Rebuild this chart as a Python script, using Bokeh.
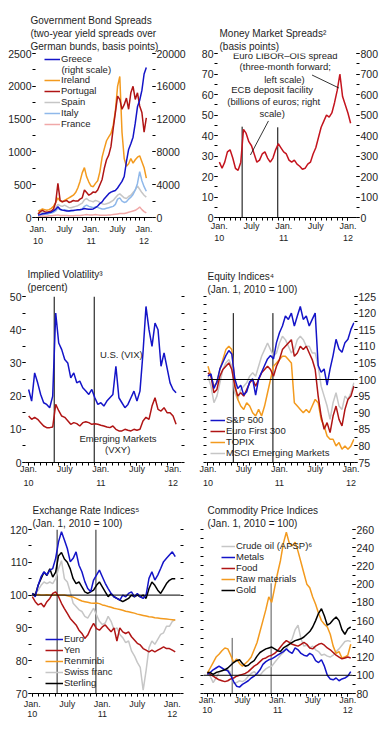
from bokeh.plotting import figure
from bokeh.models import (Range1d, LinearAxis, FixedTicker, Label, Legend, LegendItem,
                          Arrow, Span)
from bokeh.layouts import column, row
from bokeh.embed import file_html
from bokeh.resources import INLINE

FONT = "Liberation Sans"
TXT = "#1e1e1e"
BLUE = "#1414c8"
DARKRED = "#b01515"
RED = "#c4141e"
ORANGE = "#f39a1e"
LGRAY = "#c6c6c6"
LBLUE = "#8fb8ea"
PINK = "#f0a8a8"

# ---------------- time axis (months since Jan. 2010, semi-monthly) -------------
months = [i / 2 for i in range(50)]
x_major = [0, 6, 12, 18, 24]
x_major_labels = ["Jan.", "July", "Jan.", "July", "Jan."]
x_minor = list(range(0, 25))
year_ticks = [0, 12, 24]
year_labels = ["10", "11", "12"]
event_dates = [4.25, 10.9]

# ---------------- Panel 1: Government bond spreads (bp) ------------------------
greece = [300, 350, 450, 500, 550, 600, 650, 800, 1000, 1300,
          1000, 900, 850, 800, 800, 850, 850, 900, 950, 950,
          1000, 1100, 1050, 1000, 1000, 1050, 1200, 1400, 1700, 1900,
          2300, 2600, 2900, 3100, 3200, 3300, 3600, 4000, 4400, 5000,
          6800, 8300, 9000, 9800, 11500, 13500, 14300, 15500, 17500, 18300]
ireland = [100, 110, 130, 120, 110, 120, 140, 170, 230, 300,
           250, 240, 260, 280, 300, 320, 340, 380, 450, 550,
           680, 760, 620, 540, 480, 470, 520, 560, 700, 920,
           1050, 1170, 1230, 1280, 1400, 1620, 2000, 2150, 1300, 900,
           780, 820, 900, 830, 880, 920, 940, 850, 760, 600]
portugal = [50, 90, 110, 90, 80, 90, 100, 130, 230, 520,
            260, 240, 250, 260, 230, 240, 260, 250, 250, 280,
            300, 420, 380, 340, 360, 390, 380, 420, 500, 580,
            750, 880, 950, 1080, 1350, 1600, 1850, 1800, 1650, 1720,
            1820, 1650, 1900, 2000, 1800, 1900, 1700, 1600, 1300, 1520]
spain = [60, 70, 80, 70, 70, 80, 90, 110, 150, 200,
         180, 170, 190, 170, 150, 150, 160, 170, 180, 200,
         220, 270, 290, 260, 250, 240, 260, 250, 230, 210,
         200, 210, 220, 240, 260, 300, 340, 360, 330, 300,
         290, 320, 340, 380, 420, 480, 430, 380, 340, 310]
italy = [30, 40, 50, 50, 50, 60, 70, 80, 100, 140,
         120, 110, 120, 110, 100, 100, 105, 110, 115, 120,
         130, 170, 190, 170, 160, 150, 160, 155, 140, 130,
         130, 140, 150, 160, 170, 200, 280, 300, 250, 230,
         240, 280, 310, 350, 420, 520, 700, 560, 470, 400]
france = [20, 20, 25, 20, 20, 25, 25, 30, 35, 40,
          30, 30, 30, 30, 25, 25, 25, 30, 30, 30,
          35, 40, 45, 40, 40, 40, 45, 40, 35, 35,
          35, 35, 40, 40, 45, 50, 55, 60, 60, 60,
          70, 80, 90, 100, 110, 130, 160, 120, 90, 70]
p1_left_ticks = [0, 500, 1000, 1500, 2000, 2500]
p1_left_minor = [0, 250, 500, 750, 1000, 1250, 1500, 1750, 2000, 2250, 2500]
p1_right_ticks = [0, 4000, 8000, 12000, 16000, 20000]
p1_right_minor = [0, 2000, 4000, 6000, 8000, 10000, 12000, 14000, 16000, 18000, 20000]

# ---------------- Panel 2: Money market spreads -------------------------------
libor_ois = [27, 24, 27, 32, 33, 29, 24, 23, 27, 43,
             41, 37, 35, 31, 27, 28, 31, 32, 29, 27,
             29, 33, 36, 34, 32, 31, 28, 27, 28, 26,
             25, 23.5, 24, 26, 27, 31, 34, 39, 44, 47,
             50, 49, 51, 56, 62, 70, 59, 55, 51, 46]
ecb_deposit = [443, 440]  # billions of euros, right scale, at event dates
p2_left_ticks = [0, 10, 20, 30, 40, 50, 60, 70, 80]
p2_left_minor = [0, 5, 10, 15, 20, 25, 30, 35, 40, 45, 50, 55, 60, 65, 70, 75, 80]
p2_right_ticks = [0, 100, 200, 300, 400, 500, 600, 700, 800]
p2_right_minor = [0, 50, 100, 150, 200, 250, 300, 350, 400, 450, 500, 550, 600, 650, 700, 750, 800]

# ---------------- Panel 3: Implied volatility (percent) -----------------------
vix = [22, 18.5, 27, 24, 20.5, 18, 17.5, 16.5, 20, 45,
       36, 34, 31, 30, 25.5, 27, 24, 24.5, 22.5, 21.5,
       20.5, 22, 19.5, 17.5, 18, 17, 18.5, 19.5, 20.5, 29,
       19.5, 18, 16.5, 17.5, 19.5, 21.5, 18.5, 21.5, 33, 47,
       40, 35, 42, 40, 29, 33, 28.5, 24, 22, 21]
vxy = [14, 13, 13.6, 13, 12, 11, 10.5, 10.5, 10.7, 17.5,
       15.6, 14, 13.6, 12.6, 11.5, 12, 11.7, 11, 12, 12.3,
       12, 11.5, 11.7, 11.5, 11.2, 11, 10.7, 10.5, 11, 10,
       9.5, 9.5, 10, 9.7, 9.5, 10, 9.7, 10, 12.5, 13.6,
       13, 17, 19.5, 16, 15.5, 16.5, 15, 15, 14, 11.5]
p3_event_top = [50, 50]
p3_left_ticks = [0, 10, 20, 30, 40, 50]
p3_minor = [0, 5, 10, 15, 20, 25, 30, 35, 40, 45, 50]

# ---------------- Panel 4: Equity indices ------------------------------------
sp500 = [101, 101.7, 97.3, 99.3, 103.2, 105.2, 107.2, 108.7, 107.7, 100.2,
         97.3, 98.3, 95.3, 96.3, 99.3, 100.2, 95.3, 100.2, 102.2, 104.2,
         106.2, 107.2, 106.2, 111.1, 114.1, 116.1, 119.1, 118.1, 120, 116.1,
         119.1, 122, 118.1, 119.1, 116.1, 118.1, 120, 104.2, 102.2, 103.2,
         98.3, 103.2, 107.2, 112.1, 109.2, 108.2, 111.1, 112.1, 115.1, 117.1]
euro300 = [102, 101, 96, 97, 101, 103, 104, 105, 103, 98,
           95, 96, 95, 97, 99, 100, 98, 100, 102, 103,
           104, 103, 101, 104, 106, 109, 110, 111, 112, 107,
           108, 110, 109, 110, 108, 106, 103, 95, 89, 85,
           87, 84, 89, 92, 88, 86, 91, 94, 95, 98]
topix = [104, 101, 98, 99, 103, 106, 109, 110, 109, 99,
         94, 92, 91, 93, 92, 90, 89, 91, 89, 92,
         96, 100, 104, 105, 106, 107, 107, 106, 105, 93,
         92, 91, 90, 91, 90, 92, 94, 93, 88, 86,
         83, 82, 82, 80, 81, 79, 80, 79, 80, 82]
msci_em = [101, 98, 93, 95, 99, 103, 105, 106, 104, 96,
           94, 97, 98, 99, 101, 102, 101, 104, 107, 109,
           111, 109, 107, 108, 111, 113, 112, 110, 108, 109,
           112, 113, 112, 110, 110, 108, 108, 104, 98, 95,
           92, 88, 93, 96, 92, 91, 95, 94, 96, 99]
p4_event_top = [120, 120]
p4_event_bottom = [75, 75]
p4_right_ticks = [75, 80, 85, 90, 95, 100, 105, 110, 115, 120, 125]
p4_minor = [75, 77.5, 80, 82.5, 85, 87.5, 90, 92.5, 95, 97.5, 100, 102.5, 105,
            107.5, 110, 112.5, 115, 117.5, 120, 122.5, 125]

# ---------------- Panel 5: Exchange rate indices -----------------------------
euro_fx = [100.5, 99.5, 103, 105.6, 107.1, 106.1, 107.6, 108.1, 111.2, 116.3,
           119.3, 116.8, 114.2, 110.2, 111.2, 113.2, 109.1, 107.1, 104.1, 102,
           101, 104.6, 106.1, 107.6, 105.6, 103.6, 102, 100.5, 99.5, 99,
           98.5, 100, 99.5, 100.5, 101, 99.5, 100.5, 99.5, 99, 100,
           105.1, 107.1, 104.6, 106.1, 108.1, 110.2, 111.2, 112.2, 113.2, 111.7]
yen = [99.5, 98, 97, 97.5, 96.4, 98, 99, 100.5, 101, 99.5,
       97.5, 95.9, 94.4, 92.9, 91.9, 90.9, 89.3, 88.3, 86.8, 87.8,
       89.8, 91.4, 89.8, 89.3, 90.3, 90.9, 89.8, 88.8, 90, 86,
       90, 88.8, 88.3, 88.8, 87.3, 86.3, 85.3, 84.8, 83.7, 83.2,
       82.7, 83.2, 82.7, 83.2, 83.7, 84.2, 83.7, 83.7, 83.2, 82.7]
renminbi = [100, 100, 100.2, 100, 100, 100.1, 100, 100, 100.1, 100,
            100, 100, 99.8, 99.6, 99.4, 99, 98.6, 98.2, 98, 97.8,
            97.6, 97.5, 97.6, 97.4, 97, 96.8, 96.5, 96.3, 96, 95.8,
            95.6, 95.4, 95.1, 94.9, 94.7, 94.5, 94.2, 94, 93.8, 93.6,
            93.4, 93.3, 93.1, 93, 92.9, 92.8, 92.7, 92.6, 92.5, 92.4]
swiss_franc = [100, 100.5, 101.5, 103, 104, 103.5, 104, 103.5, 105, 108,
               110.5, 105, 104, 101, 97.5, 96.5, 95.5, 95, 93.5, 93,
               94.5, 96, 94, 92, 91, 91.5, 93.5, 92, 89.5, 90,
               88, 87, 85.5, 86, 83, 81.5, 79.5, 78, 71, 77,
               84, 86, 85, 86.5, 88, 88.5, 90.5, 90.5, 92, 92.5]
sterling = [100.5, 100, 103, 105, 107, 106, 108, 105.5, 107, 112,
            113, 111, 110, 108, 105, 103.5, 104, 102.5, 101, 100.5,
            101, 101.5, 103, 104, 102.5, 101, 99.5, 100.5, 99.5, 99,
            98.5, 98, 98.5, 99, 100, 99.5, 100, 99.5, 100, 99,
            102, 104, 103, 101.5, 100.5, 102, 103.5, 104.5, 105, 105]
p5_event_top = [120, 120]
p5_event_bottom = [70, 70]
p5_left_ticks = [70, 80, 90, 100, 110, 120]
p5_minor = [70, 75, 80, 85, 90, 95, 100, 105, 110, 115, 120]

# ---------------- Panel 6: Commodity price indices ---------------------------
crude_oil = [102, 99, 92, 97, 103, 105, 107, 106, 103, 91,
             92, 94, 93, 95, 99, 102, 104, 101, 100, 104,
             107, 109, 110, 114, 118, 122, 125, 129, 135, 140,
             150, 155, 140, 132, 133, 130, 132, 128, 126, 122,
             123, 121, 120, 122, 126, 129, 133, 137, 138, 137]
metals = [101, 103, 106, 108, 110, 108, 106, 105, 100, 93,
          88, 87, 90, 92, 94, 97, 99, 102, 106, 112,
          115, 117, 118, 120, 122, 124, 126, 129, 126, 124,
          130, 128, 124, 122, 121, 124, 122, 116, 114, 117,
          110, 100, 96, 95, 97, 94, 96, 97, 99, 104]
food = [103, 101, 99, 97, 95, 94, 93, 94, 96, 97,
        99, 100, 101, 102, 104, 107, 110, 112, 115, 118,
        119, 121, 122, 124, 127, 131, 135, 138, 136, 134,
        133, 132, 134, 136, 134, 130, 129, 132, 134, 135,
        133, 130, 128, 125, 122, 120, 118, 119, 120, 119]
raw_materials = [102, 108, 114, 120, 123, 127, 130, 129, 122, 114,
                 118, 113, 110, 113, 116, 120, 128, 136, 148, 160,
                 172, 186, 180, 196, 212, 226, 245, 257, 245, 242,
                 246, 236, 224, 212, 200, 196, 186, 178, 168, 160,
                 156, 153, 145, 132, 124, 126, 119, 120, 122, 134]
gold = [103, 103, 101, 103, 104, 105, 106, 108, 111, 114,
        116, 117, 113, 110, 111, 114, 116, 121, 125, 127,
        129, 130, 131, 129, 127, 126, 130, 132, 134, 136,
        138, 139, 140, 142, 145, 148, 153, 160, 168, 173,
        165, 155, 157, 161, 164, 160, 150, 145, 151, 153]
p6_event_top = [141, 201]
p6_event_bottom = [80, 80]
p6_right_ticks = [80, 100, 120, 140, 160, 180, 200, 220, 240, 260]
p6_minor = [80, 90, 100, 110, 120, 130, 140, 150, 160, 170, 180, 190, 200,
            210, 220, 230, 240, 250, 260]


# =============================== helpers =====================================
def base_fig(w, h, borders, xr, yr):
    l, r, t, b = borders
    p = figure(width=w, height=h, x_range=Range1d(*xr), y_range=Range1d(*yr),
               min_border_left=l, min_border_right=r, min_border_top=t,
               min_border_bottom=b, x_axis_type=None, y_axis_type=None,
               output_backend="svg", toolbar_location=None, tools="")
    p.outline_line_color = None
    p.background_fill_color = "white"
    p.border_fill_color = "white"
    return p


def set_title(p, text, offset, standoff):
    p.title.text = text
    p.title.align = "left"
    p.title.offset = offset
    p.title.standoff = standoff
    p.title.text_font = FONT
    p.title.text_font_size = "10px"
    p.title.text_font_style = "normal"
    p.title.text_color = TXT
    p.title.text_line_height = 1.2


def add_x_axes(p, s1, s2):
    ax = LinearAxis(ticker=FixedTicker(ticks=x_major, minor_ticks=x_minor),
                    major_label_overrides=dict(zip(x_major, x_major_labels)))
    ax.axis_line_color = "black"
    ax.major_tick_in = 0
    ax.major_tick_out = 3
    ax.minor_tick_in = 0
    ax.minor_tick_out = 3
    ax.major_tick_line_color = "black"
    ax.minor_tick_line_color = "black"
    ax.major_label_standoff = s1
    ax.major_label_text_font = FONT
    ax.major_label_text_font_size = "9px"
    ax.major_label_text_color = TXT
    p.add_layout(ax, "below")
    ax2 = LinearAxis(ticker=FixedTicker(ticks=year_ticks, minor_ticks=[]),
                     major_label_overrides=dict(zip(year_ticks, year_labels)))
    ax2.axis_line_color = None
    ax2.major_tick_line_color = None
    ax2.minor_tick_line_color = None
    ax2.major_tick_in = 0
    ax2.major_tick_out = 0
    ax2.major_label_standoff = s2
    ax2.major_label_text_font = FONT
    ax2.major_label_text_font_size = "9px"
    ax2.major_label_text_color = TXT
    p.add_layout(ax2, "below")


def add_y_axis(p, side, major, minor, range_name="default"):
    ax = LinearAxis(ticker=FixedTicker(ticks=major, minor_ticks=minor),
                    y_range_name=range_name)
    ax.axis_line_color = None
    ax.major_tick_in = 0
    ax.major_tick_out = 3
    ax.minor_tick_in = 0
    ax.minor_tick_out = 3
    ax.major_tick_line_color = "black"
    ax.minor_tick_line_color = "black"
    ax.major_label_standoff = 1
    ax.major_label_text_font = FONT
    ax.major_label_text_font_size = "10.5px"
    ax.major_label_text_color = TXT
    p.add_layout(ax, side)


def add_legend(p, entries, loc, glyph_w):
    items = [LegendItem(label=lab, renderers=[r]) for lab, r in entries]
    leg = Legend(items=items, location=loc, orientation="vertical",
                 border_line_color=None, background_fill_alpha=0,
                 padding=0, margin=0, spacing=0,
                 glyph_width=glyph_w, glyph_height=10, label_height=10,
                 label_standoff=1, label_text_font=FONT,
                 label_text_font_size="9.5px", label_text_color=TXT)
    p.add_layout(leg)


def note(p, x, y, text, align="center"):
    p.add_layout(Label(x=x, y=y, text=text, text_align=align,
                       text_baseline="middle", text_font=FONT,
                       text_font_size="9.5px", text_color=TXT))


LW = 1.5

# =============================== Panel 1 =====================================
p1 = base_fig(193, 262, (35, 41, 53, 45), (-0.57, 25.9), (0, 2500))
p1.extra_y_ranges = {"right": Range1d(0, 20000)}
set_title(p1, "Government Bond Spreads\n(two-year yield spreads over\nGerman bunds, basis points)", -5, 3)
add_x_axes(p1, 3, 1)
add_y_axis(p1, "left", p1_left_ticks, p1_left_minor)
add_y_axis(p1, "right", p1_right_ticks, p1_right_minor, "right")
r_fr = p1.line(months, france, color=PINK, line_width=LW)
r_es = p1.line(months, spain, color=LGRAY, line_width=LW)
r_it = p1.line(months, italy, color=LBLUE, line_width=LW)
r_ie = p1.line(months, ireland, color=ORANGE, line_width=LW)
r_pt = p1.line(months, portugal, color=DARKRED, line_width=LW)
r_gr = p1.line(months, greece, color=BLUE, line_width=LW, y_range_name="right")
add_legend(p1, [("Greece", r_gr)], (9, 153), 16)
add_legend(p1, [("Ireland", r_ie), ("Portugal", r_pt), ("Spain", r_es),
                ("Italy", r_it), ("France", r_fr)], (9, 88), 16)
note(p1, 5.3, 2256, "(right scale)", align="left")

# =============================== Panel 2 =====================================
p2 = base_fig(194, 262, (24, 31, 53, 41), (-0.35, 25.6), (0, 80))
p2.extra_y_ranges = {"right": Range1d(0, 800)}
set_title(p2, "Money Market Spreads\u00b2\n(basis points)", 2, 3)
add_x_axes(p2, 0, 1)
add_y_axis(p2, "left", p2_left_ticks, p2_left_minor)
add_y_axis(p2, "right", p2_right_ticks, p2_right_minor, "right")
p2.segment(x0=event_dates, y0=[0, 0], x1=event_dates, y1=ecb_deposit,
           color="black", line_width=1, y_range_name="right")
p2.line(months, libor_ois, color=RED, line_width=LW)
note(p2, 12.3, 79.0, "Euro LIBOR\u2013OIS spread")
note(p2, 12.3, 73.5, "(three-month forward;")
note(p2, 12.15, 67.5, "left scale)")
note(p2, 9.85, 62.4, "ECB deposit facility")
note(p2, 10.15, 56.8, "(billions of euros; right")
note(p2, 9.85, 50.8, "scale)")
p2.add_layout(Arrow(end=None, x_start=17.3, y_start=69.5, x_end=22.3, y_end=63.2,
                    line_color="black", line_width=0.8))
p2.add_layout(Arrow(end=None, x_start=9.16, y_start=47.1, x_end=5.8, y_end=30.5,
                    line_color="black", line_width=0.8))

# =============================== Panel 3 =====================================
p3 = base_fig(193, 238, (25, 12, 34, 38), (-0.52, 25.4), (0, 50))
set_title(p3, "Implied Volatility\u00b3\n(percent)", 2, 6)
add_x_axes(p3, -2, 3)
add_y_axis(p3, "left", p3_left_ticks, p3_minor)
add_y_axis(p3, "right", [], p3_minor)
p3.segment(x0=event_dates, y0=[0, 0], x1=event_dates, y1=p3_event_top,
           color="black", line_width=1)
p3.line(months, vxy, color=DARKRED, line_width=LW)
p3.line(months, vix, color=BLUE, line_width=LW)
note(p3, 15.4, 32.4, "U.S. (VIX)")
note(p3, 14.85, 7.1, "Emerging Markets")
note(p3, 14.8, 3.9, "(VXY)")

# =============================== Panel 4 =====================================
p4 = base_fig(194, 238, (13, 33, 32, 38), (-0.25, 24.6), (75, 125))
set_title(p4, "Equity Indices\u2074\n(Jan. 1, 2010 = 100)", 1, 3)
add_x_axes(p4, -2, 3)
add_y_axis(p4, "left", [], p4_minor)
add_y_axis(p4, "right", p4_right_ticks, p4_minor)
p4.add_layout(Span(location=100, dimension="width", line_color="black", line_width=1))
p4.segment(x0=event_dates, y0=p4_event_bottom, x1=event_dates, y1=p4_event_top,
           color="black", line_width=1)
r_em = p4.line(months, msci_em, color=LGRAY, line_width=LW)
r_tp = p4.line(months, topix, color=ORANGE, line_width=LW)
r_eu = p4.line(months, euro300, color=DARKRED, line_width=LW)
r_sp = p4.line(months, sp500, color=BLUE, line_width=LW)
add_legend(p4, [("S&P 500", r_sp), ("Euro First 300", r_eu), ("TOPIX", r_tp),
                ("MSCI Emerging Markets", r_em)], (4, 4), 15)

# =============================== Panel 5 =====================================
p5 = base_fig(193, 230, (31, 13, 29, 37), (-0.14, 25.4), (70, 120))
set_title(p5, "Exchange Rate Indices\u2075\n(Jan. 1, 2010 = 100)", 1, 1)
add_x_axes(p5, 2, -1)
add_y_axis(p5, "left", p5_left_ticks, p5_minor)
add_y_axis(p5, "right", [], p5_minor)
p5.add_layout(Span(location=100, dimension="width", line_color="black", line_width=1))
p5.segment(x0=event_dates, y0=p5_event_bottom, x1=event_dates, y1=p5_event_top,
           color="#222222", line_width=1)
r_ch = p5.line(months, swiss_franc, color=LGRAY, line_width=LW)
r_rmb = p5.line(months, renminbi, color=ORANGE, line_width=LW)
r_yen = p5.line(months, yen, color=DARKRED, line_width=LW)
r_gbp = p5.line(months, sterling, color="black", line_width=LW)
r_eur = p5.line(months, euro_fx, color=BLUE, line_width=LW)
add_legend(p5, [("Euro", r_eur), ("Yen", r_yen), ("Renminbi", r_rmb),
                ("Swiss franc", r_ch), ("Sterling", r_gbp)], (14, 5), 18)

# =============================== Panel 6 =====================================
p6 = base_fig(194, 230, (10, 35, 29, 30), (-0.65, 24.8), (80, 260))
set_title(p6, "Commodity Price Indices\n(Jan. 1, 2010 = 100)", 4, 1)
add_x_axes(p6, -2, -1)
add_y_axis(p6, "left", [], p6_minor)
add_y_axis(p6, "right", p6_right_ticks, p6_minor)
p6.add_layout(Span(location=100, dimension="width", line_color="black", line_width=1))
p6.segment(x0=event_dates, y0=p6_event_bottom, x1=event_dates, y1=p6_event_top,
           color="#555555", line_width=1)
r_oil = p6.line(months, crude_oil, color=LGRAY, line_width=LW)
r_raw = p6.line(months, raw_materials, color=ORANGE, line_width=LW)
r_food = p6.line(months, food, color=DARKRED, line_width=LW)
r_met = p6.line(months, metals, color=BLUE, line_width=LW)
r_gold = p6.line(months, gold, color="black", line_width=LW)
add_legend(p6, [("Crude oil (APSP)\u2076", r_oil), ("Metals", r_met), ("Food", r_food),
                ("Raw materials", r_raw), ("Gold", r_gold)], (18, 98), 14)

layout = column(row(p1, p2), row(p3, p4), row(p5, p6))
open("out.html", "w").write(file_html(layout, INLINE))
